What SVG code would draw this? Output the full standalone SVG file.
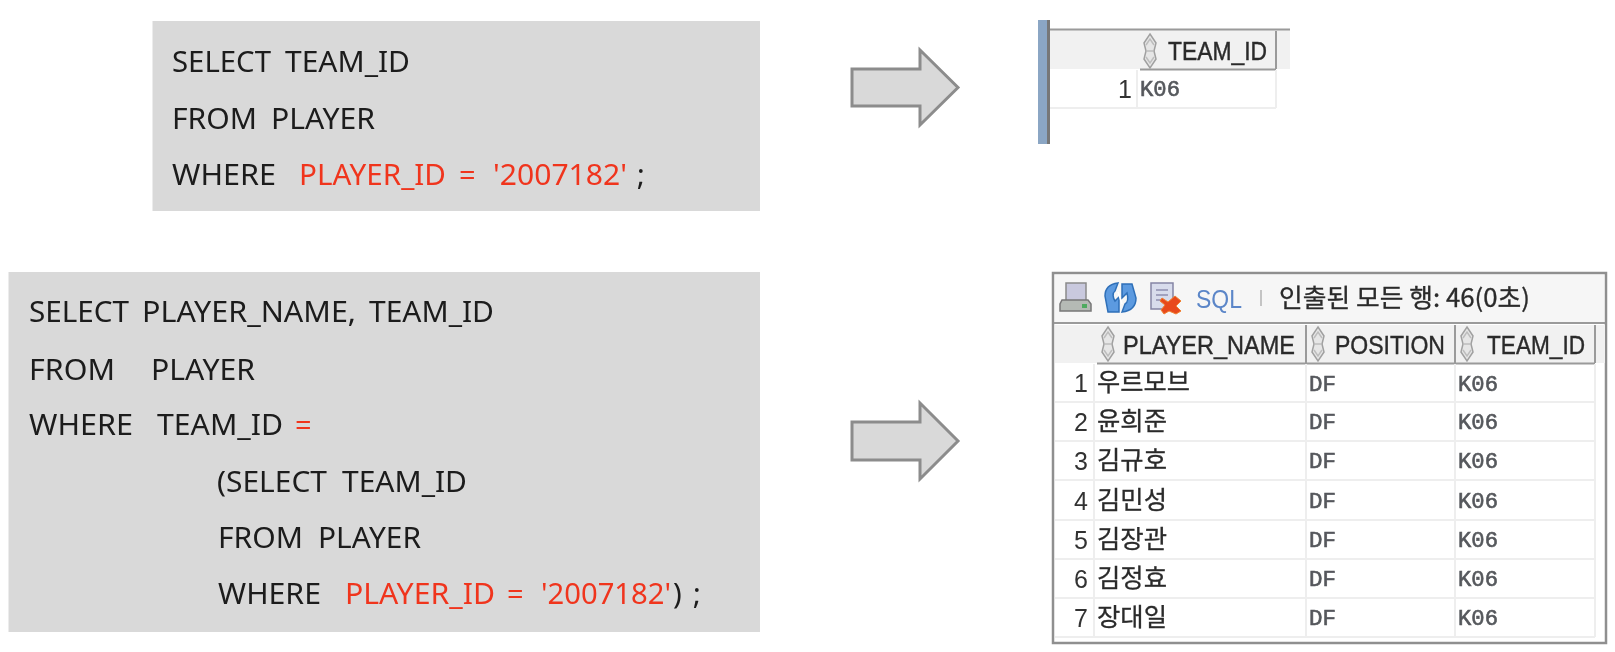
<svg xmlns="http://www.w3.org/2000/svg" width="1615" height="652" viewBox="0 0 1615 652">
<style>
.box{fill:#d9d9d9}
.q{font-family:"Noto Sans","Liberation Sans",sans-serif;font-size:29px;fill:#1a1a1a}
.r{fill:#f0341f}
.arrow{fill:#d9d9d9;stroke:#8c8c8c;stroke-width:3}
.h{font-family:"Liberation Sans",Arial,sans-serif;font-size:25px;fill:#2b2b2b;stroke:#2b2b2b;stroke-width:.4}
.n{font-family:"Liberation Sans",Arial,sans-serif;font-size:25px;fill:#333;text-anchor:end}
.k{font-family:"Noto Sans CJK KR","Noto Sans",sans-serif;font-size:25px;fill:#2b2b2b;stroke:#2b2b2b;stroke-width:.3}
.m{font-family:"Liberation Mono",monospace;font-size:22px;fill:#55585c;stroke:#55585c;stroke-width:.6}
.hb{fill:#f1f1f1}
.rl{stroke:#eeeeee;stroke-width:2;fill:none}
.hs{stroke:#9a9a9a;stroke-width:2;fill:none}
.so{fill:#e6e6e6;stroke:#a0a0a0;stroke-width:1.500}
.si{fill:none;stroke:#bdbdbd;stroke-width:1.500}
</style>
<defs>
<filter id="soft" x="-2%" y="-2%" width="104%" height="104%"><feGaussianBlur stdDeviation="0.5"/></filter>
<g id="sort">
<path class="so" d="M8 1L14 10L12 18L14 26L8 35L2 26L4 18L2 10Z"/>
<path class="si" d="M4 12L8 6L12 12M4 24L8 30L12 24M5 18H11"/>
</g>
</defs>
<rect width="1615" height="652" fill="#ffffff"/>

<g id="query1" filter="url(#soft)">
<rect class="box" x="152.500" y="21" width="607.500" height="190"/>
<text class="q" x="172" y="72" textLength="99" lengthAdjust="spacingAndGlyphs">SELECT</text>
<text class="q" x="285" y="72" textLength="125" lengthAdjust="spacingAndGlyphs">TEAM_ID</text>
<text class="q" x="172" y="129" textLength="85" lengthAdjust="spacingAndGlyphs">FROM</text>
<text class="q" x="271" y="129" textLength="104" lengthAdjust="spacingAndGlyphs">PLAYER</text>
<text class="q" x="172" y="185" textLength="104" lengthAdjust="spacingAndGlyphs">WHERE</text>
<text class="q r" x="299" y="185" textLength="147" lengthAdjust="spacingAndGlyphs">PLAYER_ID</text>
<text class="q r" x="459" y="185">=</text>
<text class="q r" x="493" y="185" textLength="134" lengthAdjust="spacingAndGlyphs">'2007182'</text>
<text class="q" x="637" y="185">;</text>
</g>

<g id="query2" filter="url(#soft)">
<rect class="box" x="8.500" y="272" width="751.500" height="360"/>
<text class="q" x="29" y="322" textLength="100" lengthAdjust="spacingAndGlyphs">SELECT</text>
<text class="q" x="142" y="322" textLength="214" lengthAdjust="spacingAndGlyphs">PLAYER_NAME,</text>
<text class="q" x="369" y="322" textLength="125" lengthAdjust="spacingAndGlyphs">TEAM_ID</text>
<text class="q" x="29" y="380" textLength="86" lengthAdjust="spacingAndGlyphs">FROM</text>
<text class="q" x="151" y="380" textLength="104" lengthAdjust="spacingAndGlyphs">PLAYER</text>
<text class="q" x="29" y="435" textLength="104" lengthAdjust="spacingAndGlyphs">WHERE</text>
<text class="q" x="157" y="435" textLength="126" lengthAdjust="spacingAndGlyphs">TEAM_ID</text>
<text class="q r" x="295" y="435">=</text>
<text class="q" x="217" y="492" textLength="110" lengthAdjust="spacingAndGlyphs">(SELECT</text>
<text class="q" x="342" y="492" textLength="125" lengthAdjust="spacingAndGlyphs">TEAM_ID</text>
<text class="q" x="218" y="548" textLength="85" lengthAdjust="spacingAndGlyphs">FROM</text>
<text class="q" x="318" y="548" textLength="103" lengthAdjust="spacingAndGlyphs">PLAYER</text>
<text class="q" x="218" y="604" textLength="103" lengthAdjust="spacingAndGlyphs">WHERE</text>
<text class="q r" x="345" y="604" textLength="150" lengthAdjust="spacingAndGlyphs">PLAYER_ID</text>
<text class="q r" x="507" y="604">=</text>
<text class="q r" x="541" y="604" textLength="130" lengthAdjust="spacingAndGlyphs">'2007182'</text>
<text class="q" x="673" y="604">)</text>
<text class="q" x="693" y="604">;</text>
</g>

<g id="connectors" filter="url(#soft)">
<path class="arrow" d="M852 69H920V50L958 87.500L920 125V106H852Z"/>
<path class="arrow" d="M852 422H920V403L958 441L920 479V460H852Z"/>
</g>

<g id="result1" filter="url(#soft)">
<rect class="hb" x="1050" y="30" width="240" height="39"/>
<rect x="1038" y="20" width="10" height="124" fill="#8ba6c4"/>
<rect x="1047" y="20" width="3" height="124" fill="#777777"/>
<path class="hs" d="M1050 29.500H1290"/>
<path class="hs" d="M1140 69.500H1276M1276 31V69"/>
<path class="rl" d="M1050 108H1276M1137 70V108M1276 70V108"/>
<use href="#sort" x="1142" y="33"/>
<text class="h" x="1168" y="60" textLength="99" lengthAdjust="spacingAndGlyphs">TEAM_ID</text>
<text class="n" x="1132" y="98">1</text>
<text class="m" x="1140" y="96" textLength="40" lengthAdjust="spacingAndGlyphs">K06</text>
</g>

<g id="result2" filter="url(#soft)">
<rect x="1053" y="273" width="553" height="370" fill="#ffffff" stroke="#8f8f8f" stroke-width="2.500"/>
<rect x="1055" y="275" width="549" height="47" fill="#f6f6f6"/>
<path class="hs" d="M1054 323H1605"/>
<g id="toolbar">
<rect x="1066" y="283" width="20" height="18" fill="#c9c9de" stroke="#8a8a8a" stroke-width="1.500"/>
<path d="M1062 300H1088L1091 304V311H1060V304Z" fill="#b5bab5" stroke="#777777" stroke-width="1.500"/>
<rect x="1082" y="304" width="5" height="4" fill="#4faa60"/>
<path d="M1105 296C1105 288 1110 284 1118 283L1115 291C1112 293 1113 298 1115 301L1119 297V312H1108Z" fill="#5b9ae0" stroke="#2f6fb8" stroke-width="1.500"/>
<path d="M1136 298C1136 306 1131 311 1122 312L1125 304C1129 302 1128 297 1127 293L1122 298V284H1132Z" fill="#5b9ae0" stroke="#2f6fb8" stroke-width="1.500"/>
<path d="M1118 292L1122 304" stroke="#ffffff" stroke-width="1.500"/>
<rect x="1151" y="283" width="22" height="26" fill="#d8dcec" stroke="#8585a5" stroke-width="1.500"/>
<path d="M1156 290H1168M1156 295H1168M1156 300H1162" stroke="#8f8fb0" stroke-width="1.500"/>
<path d="M1162 298L1168 302L1175 296L1181 301L1176 306L1181 311L1176 314L1169 311L1164 314L1161 310L1165 305L1160 301Z" fill="#e8491f" stroke="#f08030"/>
<text x="1196" y="308" font-family="Liberation Sans,Arial,sans-serif" font-size="26" fill="#5b86c8" textLength="46" lengthAdjust="spacingAndGlyphs">SQL</text>
<path d="M1261 290V306" stroke="#c4c4c4" stroke-width="2"/>
<text class="k" x="1279" y="307" textLength="251" lengthAdjust="spacingAndGlyphs">인출된 모든 행: 46(0초)</text>
</g>
<rect class="hb" x="1055" y="325" width="550" height="38"/>
<path class="hs" d="M1097 363.500H1595M1306 325V363M1455 325V363M1595 325V363"/>
<use href="#sort" x="1100" y="326"/>
<use href="#sort" x="1310" y="326"/>
<use href="#sort" x="1459" y="326"/>
<text class="h" x="1123" y="354" textLength="172" lengthAdjust="spacingAndGlyphs">PLAYER_NAME</text>
<text class="h" x="1335" y="354" textLength="110" lengthAdjust="spacingAndGlyphs">POSITION</text>
<text class="h" x="1487" y="354" textLength="98" lengthAdjust="spacingAndGlyphs">TEAM_ID</text>
<path class="rl" d="M1055 402H1595M1055 441H1595M1055 480H1595M1055 520H1595M1055 559H1595M1055 598H1595M1055 637H1595M1094 364V637M1306 364V637M1455 364V637M1595 364V637"/>
<text class="n" x="1088" y="392">1</text><text class="k" x="1097" y="391" textLength="93" lengthAdjust="spacingAndGlyphs">우르모브</text><text class="m" x="1309" y="391" textLength="27" lengthAdjust="spacingAndGlyphs">DF</text><text class="m" x="1458" y="391" textLength="40" lengthAdjust="spacingAndGlyphs">K06</text>
<text class="n" x="1088" y="431">2</text><text class="k" x="1097" y="430" textLength="70" lengthAdjust="spacingAndGlyphs">윤희준</text><text class="m" x="1309" y="429" textLength="27" lengthAdjust="spacingAndGlyphs">DF</text><text class="m" x="1458" y="429" textLength="40" lengthAdjust="spacingAndGlyphs">K06</text>
<text class="n" x="1088" y="470">3</text><text class="k" x="1097" y="469" textLength="70" lengthAdjust="spacingAndGlyphs">김규호</text><text class="m" x="1309" y="468" textLength="27" lengthAdjust="spacingAndGlyphs">DF</text><text class="m" x="1458" y="468" textLength="40" lengthAdjust="spacingAndGlyphs">K06</text>
<text class="n" x="1088" y="510">4</text><text class="k" x="1097" y="509" textLength="70" lengthAdjust="spacingAndGlyphs">김민성</text><text class="m" x="1309" y="508" textLength="27" lengthAdjust="spacingAndGlyphs">DF</text><text class="m" x="1458" y="508" textLength="40" lengthAdjust="spacingAndGlyphs">K06</text>
<text class="n" x="1088" y="549">5</text><text class="k" x="1097" y="548" textLength="70" lengthAdjust="spacingAndGlyphs">김장관</text><text class="m" x="1309" y="547" textLength="27" lengthAdjust="spacingAndGlyphs">DF</text><text class="m" x="1458" y="547" textLength="40" lengthAdjust="spacingAndGlyphs">K06</text>
<text class="n" x="1088" y="588">6</text><text class="k" x="1097" y="587" textLength="70" lengthAdjust="spacingAndGlyphs">김정효</text><text class="m" x="1309" y="586" textLength="27" lengthAdjust="spacingAndGlyphs">DF</text><text class="m" x="1458" y="586" textLength="40" lengthAdjust="spacingAndGlyphs">K06</text>
<text class="n" x="1088" y="627">7</text><text class="k" x="1097" y="626" textLength="70" lengthAdjust="spacingAndGlyphs">장대일</text><text class="m" x="1309" y="625" textLength="27" lengthAdjust="spacingAndGlyphs">DF</text><text class="m" x="1458" y="625" textLength="40" lengthAdjust="spacingAndGlyphs">K06</text>
</g>
</svg>
